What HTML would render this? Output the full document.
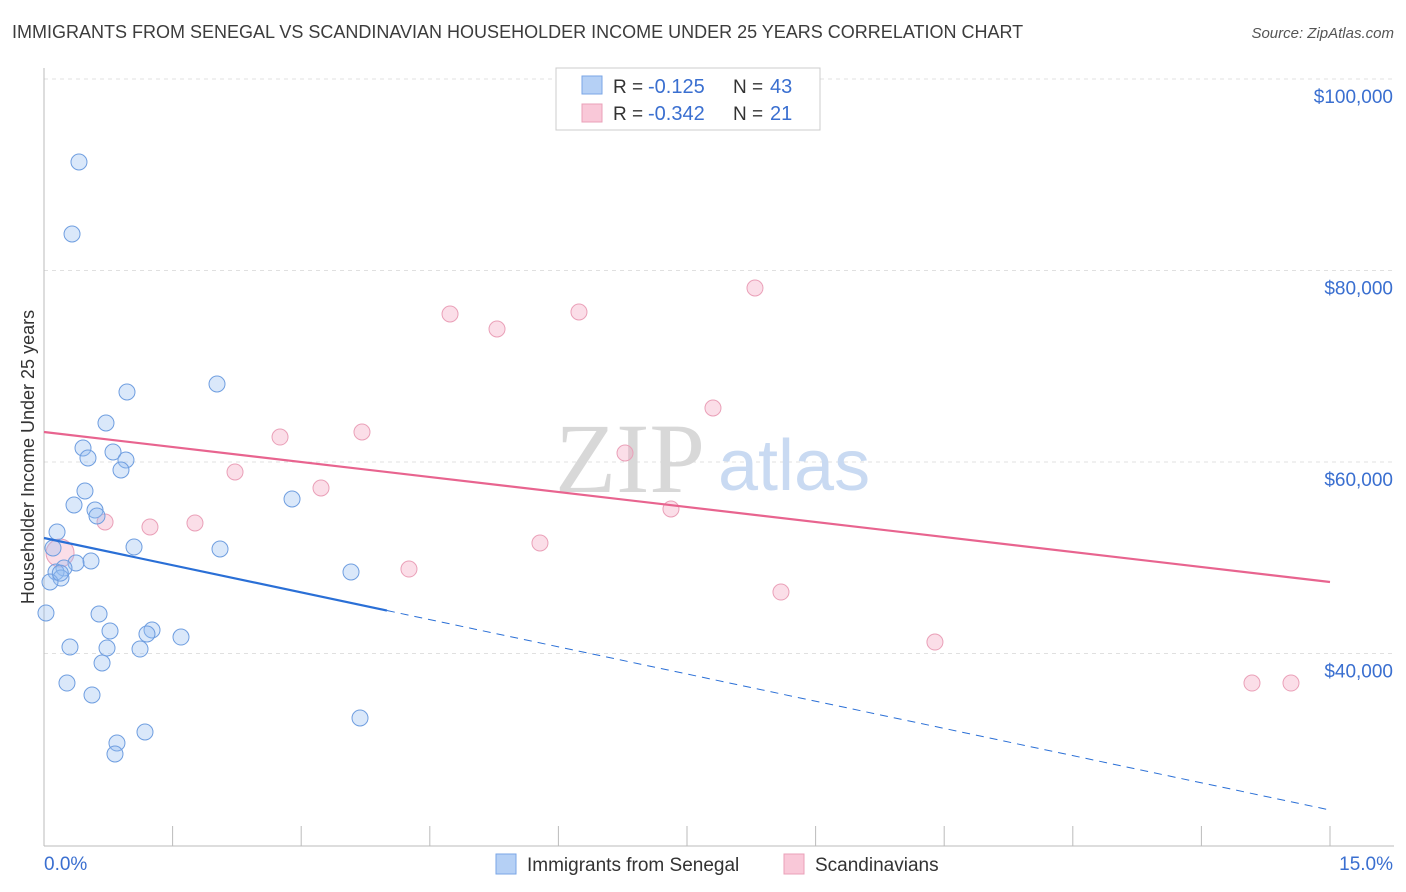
<!DOCTYPE html>
<html><head><meta charset="utf-8"><style>
body{margin:0;background:#fff;font-family:"Liberation Sans",sans-serif}
#wrap{position:relative;width:1406px;height:892px;overflow:hidden}
.t{position:absolute;white-space:nowrap}
</style></head><body>
<div id="wrap">
<div class="t" style="left:12px;top:22px;font-size:18px;color:#3c3c3c">IMMIGRANTS FROM SENEGAL VS SCANDINAVIAN HOUSEHOLDER INCOME UNDER 25 YEARS CORRELATION CHART</div>
<div class="t" style="right:12px;top:25px;font-size:15px;color:#555;font-style:italic">Source: ZipAtlas.com</div>
<svg id="svg" width="1406" height="892" style="position:absolute;left:0;top:0"></svg>
</div>
<script>
const blueX=[0.408,0.327,0.968,2.018,0.723,0.455,0.805,0.513,0.956,0.898,0.478,0.350,2.893,0.595,0.618,0.152,1.050,2.053,0.105,0.548,0.373,0.233,0.140,0.198,3.581,0.070,0.023,0.642,0.770,1.260,1.201,1.598,0.303,0.735,1.120,0.677,0.268,0.560,3.686,1.178,0.851,0.828,0.19];
const blueY=[91331,83812,67310,68146,64073,61462,61044,60417,60208,59164,56971,55509,56135,54986,54360,52689,51122,50913,51018,49660,49451,48929,48511,47884,48511,47467,44229,44125,42349,42454,42036,41722,40678,40574,40469,39007,36918,35665,33263,31801,30652,29503,48400];
const pinkX=[8.293,4.736,6.240,5.284,7.803,2.753,3.709,6.777,2.228,3.231,0.712,1.761,1.236,7.313,5.785,4.257,8.596,10.392,14.090,14.545,0.187];
const pinkY=[78172,75457,75665,73890,65639,62610,63133,60939,58955,57284,53733,53629,53211,55091,51540,48824,46422,41200,36918,36918,50496];
const blueTrend=[52062,23654]; // value at 0% and 15%
const pinkTrend=[63133,47467];
const yTicks=[100000,80000,60000,40000];
const yTickLabels=["$100,000","$80,000","$60,000","$40,000"];
const xTicks=[0,1.5,3,4.5,6,7.5,9,10.5,12,13.5,15];

const X=v=>44+v/15*1286;
const Y=v=>79+(100000-v)*191.5/20000;
const svg=document.getElementById('svg');
const NS='http://www.w3.org/2000/svg';
function mk(t,a,p){const e=document.createElementNS(NS,t);for(const k in a)e.setAttribute(k,a[k]);(p||svg).appendChild(e);return e;}

// gridlines
yTicks.forEach((v,i)=>{
 const g=mk('line',{x1:44,x2:1394,y1:Y(v),y2:Y(v),stroke:'#e0e0e0','stroke-dasharray':'4,4'});
 
 
 const t=mk('text',{x:1393,y:Y(v)+24,'text-anchor':'end','font-size':19,fill:'#3a6fd0','font-family':'Liberation Sans'});
 t.textContent=yTickLabels[i];
 
 
});
// axes
let a=mk('line',{x1:44,x2:44,y1:68,y2:846,stroke:'#bbb'});


a=mk('line',{x1:44,x2:1394,y1:846,y2:846,stroke:'#bbb'});


xTicks.forEach(v=>{
 const l=mk('line',{x1:X(v),x2:X(v),y1:826,y2:846,stroke:'#bbb'});
 
 
});
let tx=mk('text',{x:44,y:870,'font-size':19,fill:'#3a6fd0','font-family':'Liberation Sans'});tx.textContent='0.0%';


tx=mk('text',{x:1393,y:870,'text-anchor':'end','font-size':19,fill:'#3a6fd0','font-family':'Liberation Sans'});tx.textContent='15.0%';


tx=mk('text',{x:34,y:457,'text-anchor':'middle','font-size':18,fill:'#333','font-family':'Liberation Sans',transform:'rotate(-90 34 457)'});tx.textContent='Householder Income Under 25 years';


// watermark
tx=mk('text',{x:555,y:492,'font-size':100,fill:'#d8d8d8','font-family':'Liberation Serif'});tx.textContent='ZIP';


tx=mk('text',{x:718,y:490,'font-size':72,fill:'#c9daf2','font-family':'Liberation Sans'});tx.textContent='atlas';



// points
pinkX.forEach((x,i)=>{
 const c=mk('circle',{cx:X(x),cy:Y(pinkY[i]),r:i==20?14:8,fill:'rgba(244,160,190,0.35)',stroke:'#eaa0b8','stroke-width':1});
 
 
});
blueX.forEach((x,i)=>{
 const c=mk('circle',{cx:X(x),cy:Y(blueY[i]),r:8,fill:'rgba(150,190,240,0.35)',stroke:'#6f9ee0','stroke-width':1});
 
 
});
// trend lines
const bAt=v=>blueTrend[0]+(blueTrend[1]-blueTrend[0])*v/15;
let l=mk('line',{x1:X(0),y1:Y(bAt(0)),x2:X(4),y2:Y(bAt(4)),stroke:'#2a6fd6','stroke-width':2.2});


l=mk('line',{x1:X(4),y1:Y(bAt(4)),x2:X(15),y2:Y(bAt(15)),stroke:'#2a6fd6','stroke-width':1,'stroke-dasharray':'8,6'});


l=mk('line',{x1:X(0),y1:Y(pinkTrend[0]),x2:X(15),y2:Y(pinkTrend[1]),stroke:'#e8648f','stroke-width':2.2});



// legend box
const lg=mk('g',{});


mk('rect',{x:556,y:68,width:264,height:62,fill:'#fff',stroke:'#ccc'},lg);
mk('rect',{x:582,y:76,width:20,height:18,fill:'#b5d0f5',stroke:'#7aa6e6'},lg);
mk('rect',{x:582,y:104,width:20,height:18,fill:'#f9c8d8',stroke:'#eaa0b8'},lg);
[['R = ','-0.125','N = ','43',93],['R = ','-0.342','N = ','21',120]].forEach(r=>{
 let t=mk('text',{x:613,y:r[4],'font-size':19,fill:'#333','font-family':'Liberation Sans'},lg);t.textContent=r[0];
 t=mk('text',{x:648,y:r[4],'font-size':20,fill:'#3a6fd0','font-family':'Liberation Sans'},lg);t.textContent=r[1];
 t=mk('text',{x:733,y:r[4],'font-size':19,fill:'#333','font-family':'Liberation Sans'},lg);t.textContent=r[2];
 t=mk('text',{x:770,y:r[4],'font-size':20,fill:'#3a6fd0','font-family':'Liberation Sans'},lg);t.textContent=r[3];
});
// bottom legend
const bl=mk('g',{});


mk('rect',{x:496,y:854,width:20,height:20,fill:'#b5d0f5',stroke:'#7aa6e6'},bl);
let t=mk('text',{x:527,y:871,'font-size':19,fill:'#333','font-family':'Liberation Sans'},bl);t.textContent='Immigrants from Senegal';
mk('rect',{x:784,y:854,width:20,height:20,fill:'#f9c8d8',stroke:'#eaa0b8'},bl);
t=mk('text',{x:815,y:871,'font-size':19,fill:'#333','font-family':'Liberation Sans'},bl);t.textContent='Scandinavians';
</script>
</body></html>
